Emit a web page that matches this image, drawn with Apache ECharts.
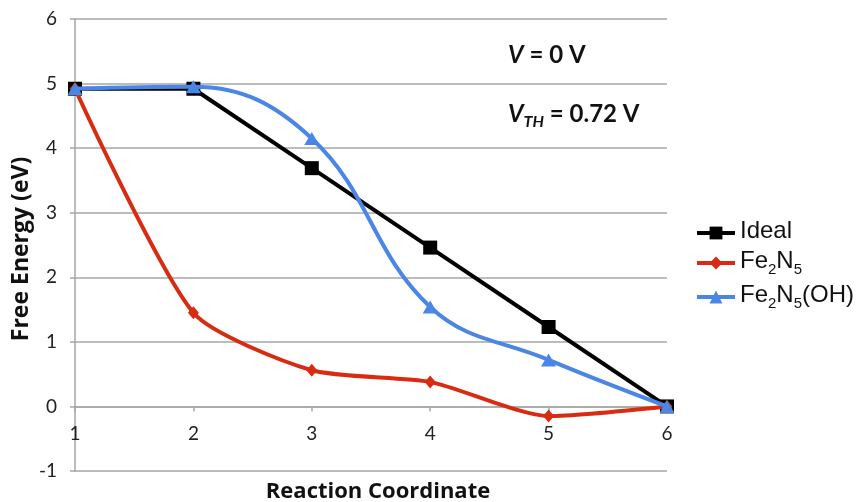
<!DOCTYPE html>
<html>
<head>
<meta charset="utf-8">
<script src="https://cdn.jsdelivr.net/npm/echarts@6/dist/echarts.min.js"></script>
<style>html,body{margin:0;padding:0;background:#fff}#c{width:864px;height:502px}</style>
</head>
<body>
<div id="c"></div>
<script>
const xValues = [1, 2, 3, 4, 5, 6];
const ideal = [4.92, 4.92, 3.69, 2.46, 1.23, 0];
const fe2n5 = [4.92, 1.45, 0.56, 0.38, -0.15, 0];
const fe2n5oh = [4.92, 4.95, 4.15, 1.54, 0.72, 0];
const seriesNames = ['Ideal', 'Fe2N5', 'Fe2N5(OH)'];
const yTicks = { min: -1, max: 6, interval: 1 };

const chart = echarts.init(document.getElementById('c'));
const grid = '#a6a6a6';
const font = 'Lato, "Open Sans", sans-serif';
const pair = (ys) => xValues.map((x, i) => [x, ys[i]]);

const gridBox = { left: 75, right: 197, top: 19, bottom: 31 };
const plotH = 502 - gridBox.top - gridBox.bottom;
// move x axis (line, ticks, labels) up to the y = 0 line
const xOffset = -plotH * (0 - yTicks.min) / (yTicks.max - yTicks.min);

function legendFmt(name) {
  if (name === 'Fe2N5') return '{n|Fe}{s|2}{n|N}{s|5}';
  if (name === 'Fe2N5(OH)') return '{n|Fe}{s|2}{n|N}{s|5}{n|(OH)}';
  return '{n|' + name + '}';
}

chart.setOption({
  animation: false,
  backgroundColor: '#fff',
  grid: Object.assign({ outerBoundsMode: 'none', containLabel: false }, gridBox),
  xAxis: {
    type: 'value', min: 1, max: 6, interval: 1,
    offset: xOffset,
    name: 'Reaction Coordinate', nameLocation: 'middle', nameGap: 74, nameMoveOverlap: false,
    nameTextStyle: { fontFamily: 'Open Sans', fontWeight: 'bold', fontSize: 22, color: '#111', padding: [0, 0, 0, 14] },
    axisLine: { onZero: false, lineStyle: { color: grid, width: 1.5 } },
    axisTick: { show: true, length: 5, lineStyle: { color: grid, width: 1.5 } },
    axisLabel: { margin: 18, fontFamily: font, fontSize: 19, color: '#222' },
    splitLine: { show: false }
  },
  yAxis: {
    type: 'value', min: yTicks.min, max: yTicks.max, interval: yTicks.interval,
    name: 'Free Energy (eV)', nameLocation: 'middle', nameGap: 42, nameRotate: 90, nameMoveOverlap: false,
    nameTextStyle: { fontFamily: 'Open Sans', fontWeight: 'bold', fontSize: 23, color: '#111', padding: [0, 8, 0, 0] },
    axisLine: { show: true, onZero: false, lineStyle: { color: grid, width: 1.5 } },
    axisTick: { show: true, length: 5, lineStyle: { color: grid, width: 1.5 } },
    axisLabel: { margin: 18, fontFamily: font, fontSize: 19, color: '#222' },
    splitLine: { show: true, lineStyle: { color: grid, width: 1.5 } }
  },
  legend: {
    orient: 'vertical', left: 690, top: 214,
    itemWidth: 38, itemHeight: 16, itemGap: 6,
    lineStyle: { width: 4 },
    data: seriesNames,
    formatter: legendFmt,
    textStyle: {
      fontFamily: 'Liberation Sans, Arial, sans-serif', color: '#111', fontSize: 24,
      rich: {
        n: { fontSize: 24, lineHeight: 28, verticalAlign: 'top', fontFamily: 'Liberation Sans' },
        s: { fontSize: 15, lineHeight: 28, verticalAlign: 'top', padding: [13, 0, 0, 0], fontFamily: 'Liberation Sans' }
      }
    }
  },
  graphic: [
    { type: 'text', left: 508, top: 43, style: {
      text: '{i|V}{b| = 0 V}', rich: {
        i: { fontFamily: font, fontWeight: 'bold', fontStyle: 'italic', fontSize: 24, fill: '#111' },
        b: { fontFamily: font, fontWeight: 'bold', fontSize: 24, fill: '#111' } } } },
    { type: 'text', left: 508, top: 102, style: {
      text: '{i|V}{s|TH}{b| = 0.72 V}', rich: {
        i: { fontFamily: font, fontWeight: 'bold', fontStyle: 'italic', fontSize: 24, fill: '#111', verticalAlign: 'top', lineHeight: 28 },
        s: { fontFamily: font, fontWeight: 'bold', fontStyle: 'italic', fontSize: 16, fill: '#111', verticalAlign: 'top', lineHeight: 28, padding: [12, 0, 0, 0] },
        b: { fontFamily: font, fontWeight: 'bold', fontSize: 24, fill: '#111', verticalAlign: 'top', lineHeight: 28 } } } }
  ],
  series: [
    { name: 'Ideal', type: 'line', data: pair(ideal), smooth: false,
      symbol: 'rect', symbolSize: 14, lineStyle: { width: 4, color: '#000' },
      itemStyle: { color: '#000' }, z: 2 },
    { name: 'Fe2N5', type: 'line', data: pair(fe2n5), smooth: 0.22,
      symbol: 'diamond', symbolSize: [11, 13], lineStyle: { width: 4, color: '#d92a12' },
      itemStyle: { color: '#d92a12' }, z: 3 },
    { name: 'Fe2N5(OH)', type: 'line', data: pair(fe2n5oh), smooth: 0.4,
      symbol: 'triangle', symbolSize: [15, 13], lineStyle: { width: 4, color: '#4a86e6' },
      itemStyle: { color: '#4a86e6' }, z: 4 }
  ]
});
</script>
</body>
</html>
